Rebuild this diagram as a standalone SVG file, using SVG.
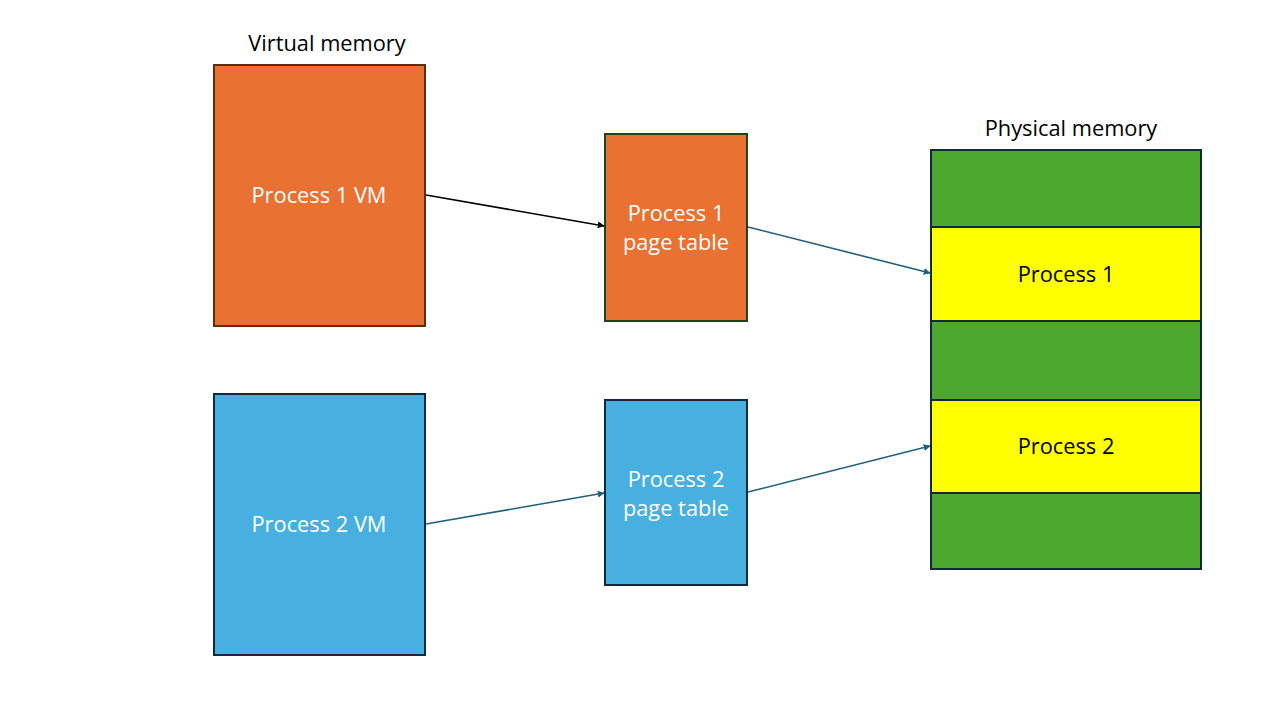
<svg xmlns="http://www.w3.org/2000/svg" width="1280" height="720" viewBox="0 0 1280 720">
<defs>
<style>
text{font-family:"Open Sans","Liberation Sans",sans-serif;font-size:21.8px;text-anchor:middle;dominant-baseline:central}
.w{fill:#ffffff}
.k{fill:#000000}
.orange{fill:#e97132}
.blue{fill:#47b0e0}
.green{fill:#4ea72e}
.yellow{fill:#ffff00}
.conn{stroke-width:1.6;fill:none}
</style>
<marker id="ah-k" viewBox="0 0 10 10" refX="9" refY="5" markerWidth="7" markerHeight="7" orient="auto" markerUnits="userSpaceOnUse"><path d="M0,0 L10,5 L0,10 z" fill="#000000"/></marker>
<marker id="ah-b" viewBox="0 0 10 10" refX="9" refY="5" markerWidth="7" markerHeight="7" orient="auto" markerUnits="userSpaceOnUse"><path d="M0,0 L10,5 L0,10 z" fill="#1e6080"/></marker>
</defs>
<rect width="1280" height="720" fill="#ffffff"/>
<text class="k" x="327" y="42">Virtual memory</text>
<text class="k" x="1071" y="127">Physical memory</text>
<g id="connectors">
<line class="conn" x1="426" y1="195" x2="604" y2="226" stroke="#000000" marker-end="url(#ah-k)"/>
<line class="conn" x1="748" y1="227" x2="930" y2="273" stroke="#1e6080" marker-end="url(#ah-b)"/>
<line class="conn" x1="426" y1="524" x2="604" y2="493" stroke="#1e6080" marker-end="url(#ah-b)"/>
<line class="conn" x1="748" y1="492" x2="930" y2="446" stroke="#1e6080" marker-end="url(#ah-b)"/>
</g>
<g id="vm1">
<rect class="orange" x="214" y="65" width="211" height="261" stroke="#5e2c10" stroke-width="2"/>
<text class="w" x="319" y="194">Process 1 VM</text>
</g>
<g id="vm2">
<rect class="blue" x="214" y="394" width="211" height="261" stroke="#0e2a3d" stroke-width="2"/>
<text class="w" x="319" y="523">Process 2 VM</text>
</g>
<g id="pt1">
<rect class="orange" x="605" y="134" width="142" height="187" stroke="#1d4419" stroke-width="2"/>
<text class="w" x="676" y="212">Process 1</text>
<text class="w" x="676" y="241">page table</text>
</g>
<g id="pt2">
<rect class="blue" x="605" y="400" width="142" height="185" stroke="#0e2a3d" stroke-width="2"/>
<text class="w" x="676" y="478">Process 2</text>
<text class="w" x="676" y="507">page table</text>
</g>
<g id="physical">
<rect class="green" x="931" y="150" width="270" height="77" stroke="#0e2a3d" stroke-width="2"/>
<rect class="yellow" x="931" y="227" width="270" height="94" stroke="#0e2a3d" stroke-width="2"/>
<rect class="green" x="931" y="321" width="270" height="79" stroke="#0e2a3d" stroke-width="2"/>
<rect class="yellow" x="931" y="400" width="270" height="93" stroke="#0e2a3d" stroke-width="2"/>
<rect class="green" x="931" y="493" width="270" height="76" stroke="#0e2a3d" stroke-width="2"/>
<text class="k" x="1066" y="273">Process 1</text>
<text class="k" x="1066" y="445">Process 2</text>
</g>
</svg>
